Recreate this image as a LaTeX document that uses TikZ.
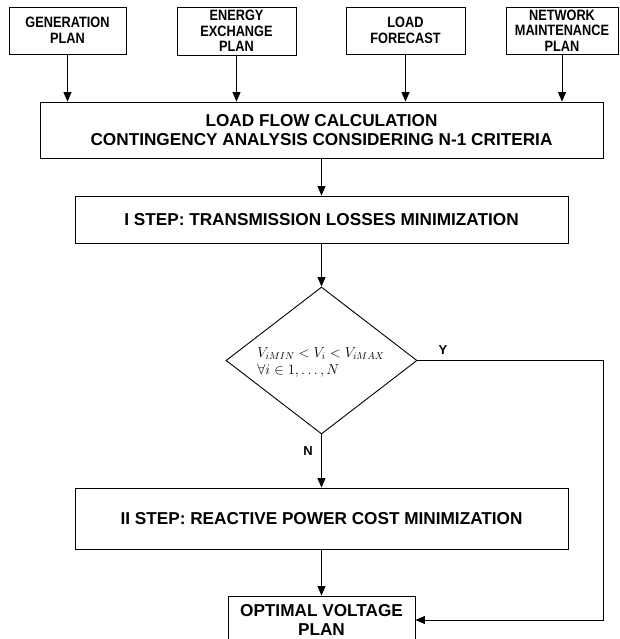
\documentclass[tikz,border=0pt]{standalone}
\usepackage{fontspec}
\setmainfont{Liberation Sans}
\newfontfamily\narrowsans[FakeStretch=0.85]{Liberation Sans}
\usetikzlibrary{shapes.geometric,arrows.meta}
\begin{document}
\begin{tikzpicture}[x=1pt,y=-1pt,line width=0.9pt,
  topbox/.style={draw, inner sep=0pt, align=center,
    font=\narrowsans\bfseries\fontsize{15}{15.5}\selectfont},
  bigbox/.style={draw, inner sep=0pt, align=center,
    font=\bfseries\fontsize{17.2}{19.5}\selectfont},
  lbl/.style={inner sep=0pt, font=\bfseries\fontsize{13}{13}\selectfont},
  frm/.style={inner sep=0pt, anchor=base west, font=\fontsize{14.5}{16}\selectfont},
  arr/.style={-{Triangle[length=9.5pt,width=8pt]}}]
\useasboundingbox (0,0) rectangle (619,639);
\clip (0,0) rectangle (619,639);
\fill[white] (0,0) rectangle (619,639);

\node[topbox, minimum width=117pt, minimum height=47pt] (t1) at (67.5,30.5) {GENERATION\\PLAN};
\node[topbox, minimum width=119pt, minimum height=48pt] (t2) at (236.5,31) {ENERGY\\EXCHANGE\\PLAN};
\node[topbox, minimum width=119pt, minimum height=47pt] (t3) at (405.5,30.5) {LOAD\\FORECAST};
\node[topbox, minimum width=112pt, minimum height=47pt] (t4) at (562,30.5) {NETWORK\\MAINTENANCE\\PLAN};

\node[bigbox, minimum width=563pt, minimum height=56pt] (lf) at (321.5,130) {LOAD FLOW CALCULATION\\CONTINGENCY ANALYSIS CONSIDERING N-1 CRITERIA};
\node[bigbox, minimum width=493pt, minimum height=47pt] (s1) at (321.5,219.5) {I STEP: TRANSMISSION LOSSES MINIMIZATION};
\node[diamond, draw, inner sep=0pt, minimum width=191pt, minimum height=147pt] (dec) at (321.5,360.5) {};
\node[frm] (f1) at (257,357) {$V_{iMIN} < V_i < V_{iMAX}$};
\node[frm] (f2) at (257,374) {$\forall i \in 1,\ldots,N$};
\node[bigbox, minimum width=493pt, minimum height=61pt] (s2) at (321.5,518.5) {II STEP: REACTIVE POWER COST MINIMIZATION};
\node[bigbox, minimum width=187pt, minimum height=48pt] (opt) at (321.5,620) {OPTIMAL VOLTAGE\\PLAN};

\node[lbl] (ly) at (443,350) {Y};
\node[lbl] (ln) at (308,451) {N};

\foreach \n in {t1,t2,t3,t4} \draw[arr] (\n.south) -- (\n.south |- lf.north);
\draw[arr] (lf.south) -- (s1.north);
\draw[arr] (s1.south) -- (dec.north);
\draw[arr] (dec.south) -- (s2.north);
\draw[arr] (s2.south) -- (opt.north);
\coordinate (yc) at (603,620);
\draw[arr] (dec.east) -| (yc) -- (opt.east);
\end{tikzpicture}
\end{document}
